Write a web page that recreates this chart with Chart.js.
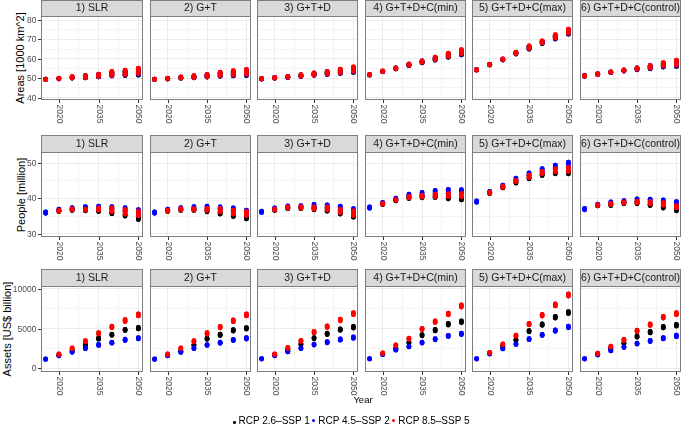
<!DOCTYPE html>
<html>
<head>
<meta charset="utf-8">
<script src="https://cdn.jsdelivr.net/npm/chart.js@4.4.1/dist/chart.umd.min.js"></script>
<style>
  body { margin: 0; width: 683px; height: 426px; background: #fff; position: relative; overflow: hidden;
         font-family: "Liberation Sans", Arial, sans-serif; }
  canvas { position: absolute; }
  .ytitle { position: absolute; transform: translate(-50%, -50%) rotate(-90deg); white-space: nowrap;
            font-size: 11px; color: #000; }
  #xtitle { position: absolute; left: 363px; top: 399px; transform: translate(-50%, -50%); font-size: 9.5px; }
  #legend { position: absolute; left: 233px; top: 415px; display: flex; align-items: center; font-size: 10px; }
  #legend span.dot { display: inline-block; border-radius: 50%; margin-right: 3px; }
  #legend span.item { display: flex; align-items: center; margin-right: 2px; }
</style>
</head>
<body>
<script>
// facets, years and scenarios
const panels = ['1) SLR', '2) G+T', '3) G+T+D', '4) G+T+D+C(min)', '5) G+T+D+C(max)', '6) G+T+D+C(control)'];
const years = [2015, 2020, 2025, 2030, 2035, 2040, 2045, 2050];
const scenarios = ['RCP 2.6\u2013SSP 1', 'RCP 4.5\u2013SSP 2', 'RCP 8.5\u2013SSP 5'];

// axis ticks
const xMajor = [2020, 2035, 2050];
const xMinor = [2027.5, 2042.5];
const areaTicks = [40, 50, 60, 70, 80];
const areaMinor = [45, 55, 65, 75];
const peopleTicks = [30, 40, 50];
const peopleMinor = [35, 45];
const assetTicks = [0, 5000, 10000];
const assetMinor = [2500, 7500];

// Areas [1000 km^2]: low / high end of each cluster, one row per panel
const areaLo26 = [
  [49.4,49.7,50.1,50.2,50.7,51.2,51.4,51.6], [49.4,49.6,50.0,50.2,50.6,51.0,51.2,51.4],
  [49.6,50.0,50.4,50.9,51.5,52.0,52.5,53.0], [51.7,53.3,54.8,56.5,57.9,59.3,60.8,62.0],
  [54.2,56.8,59.4,62.5,65.0,67.8,70.2,72.7], [51.1,52.0,52.9,53.7,54.4,54.9,55.8,56.1]];
const areaHi26 = [
  [49.6,50.0,50.6,51.1,51.8,52.8,53.4,54.2], [49.6,50.0,50.5,51.0,51.7,52.6,53.2,53.8],
  [49.8,50.3,50.8,51.6,52.4,53.1,54.0,55.0], [51.9,53.6,55.2,57.1,58.6,60.3,62.2,63.8],
  [54.4,57.1,59.8,63.1,66.2,68.8,71.7,74.4], [51.3,52.3,53.2,54.1,55.1,56.2,57.4,58.5]];
const areaLo45 = [
  [49.4,49.7,50.1,50.3,50.8,51.3,51.7,52.0], [49.4,49.7,50.1,50.3,50.7,51.2,51.5,51.8],
  [49.6,50.1,50.4,51.0,51.6,52.1,52.7,53.3], [51.7,53.4,54.9,56.6,58.1,59.5,61.1,62.4],
  [54.2,56.9,59.5,62.7,65.3,68.1,70.5,73.1], [51.1,52.0,52.9,53.8,54.5,55.0,56.1,56.5]];
const areaHi45 = [
  [49.6,50.0,50.7,51.3,52.0,53.2,53.9,54.8], [49.6,50.0,50.6,51.2,51.9,52.9,53.6,54.3],
  [49.8,50.4,50.9,51.8,52.6,53.4,54.4,55.5], [51.9,53.7,55.3,57.3,58.9,60.7,62.7,64.4],
  [54.4,57.2,59.9,63.3,66.5,69.1,72.1,75.0], [51.3,52.3,53.3,54.3,55.3,56.5,57.8,59.0]];
const areaLo85 = [
  [49.4,49.7,50.2,50.4,50.9,51.5,52.0,52.4], [49.4,49.7,50.1,50.4,50.8,51.4,51.8,52.2],
  [49.6,50.1,50.5,51.1,51.7,52.3,52.9,53.6], [51.7,53.4,54.9,56.7,58.2,59.7,61.3,62.7],
  [54.2,56.9,59.6,62.8,65.4,68.2,70.7,73.3], [51.1,52.0,53.0,53.9,54.7,55.3,56.4,56.9]];
const areaHi85 = [
  [49.6,50.1,50.8,51.4,52.1,53.5,54.2,55.2], [49.6,50.1,50.7,51.3,52.0,53.1,53.9,54.6],
  [49.8,50.4,51.0,51.9,52.8,53.6,54.7,55.9], [51.9,53.8,55.4,57.4,59.0,60.9,62.9,64.7],
  [54.4,57.3,60.0,63.4,66.7,69.3,72.4,75.3], [51.3,52.4,53.3,54.3,55.4,56.6,58.0,59.3]];

// People [million]
const peopleLo26 = [
  [null,36.3,36.6,36.5,36.3,35.7,35.0,34.0], [null,36.3,36.6,36.6,36.2,35.6,34.9,34.2],
  [null,36.6,37.1,37.1,36.8,36.4,35.6,34.7], [null,38.3,39.3,40.0,40.2,40.3,39.9,39.6],
  [null,41.4,43.0,44.4,45.6,46.5,47.0,47.0], [null,37.9,38.0,38.5,38.5,38.0,37.3,36.5]];
const peopleHi26 = [
  [null,36.6,36.9,36.8,36.6,36.1,35.4,34.6], [null,36.6,36.9,36.9,36.6,36.0,35.3,34.7],
  [null,36.9,37.3,37.4,37.1,36.8,35.9,35.2], [null,38.5,39.5,40.3,40.6,40.6,40.4,40.1],
  [null,41.6,43.3,44.7,45.9,46.9,47.4,47.5], [null,38.1,38.3,38.8,38.7,38.4,37.7,37.0]];
const peopleLo45 = [
  [35.8,36.6,37.0,37.2,37.0,36.9,36.3,35.2], [35.8,36.6,37.0,37.2,37.1,36.8,36.3,35.4],
  [36.0,37.0,37.5,37.6,37.5,37.3,36.6,35.8], [37.2,38.6,39.7,40.6,41.0,41.3,41.5,41.6],
  [38.9,41.7,43.4,45.2,46.6,47.6,48.5,48.0], [36.8,38.1,38.6,39.0,39.2,39.1,38.8,38.2]];
const peopleHi45 = [
  [36.2,37.0,37.4,37.7,37.8,37.7,37.4,36.8], [36.2,37.0,37.4,37.7,37.8,37.6,37.3,36.7],
  [36.4,37.3,37.9,38.0,38.3,38.2,37.8,37.1], [37.6,38.9,40.1,41.2,41.7,42.3,42.6,42.5],
  [39.3,42.0,43.8,45.8,47.3,48.5,49.5,50.3], [37.2,38.4,39.0,39.4,39.9,39.8,39.6,39.1]];
const peopleLo85 = [
  [null,36.4,36.8,36.7,36.7,36.2,35.6,35.1], [null,36.4,36.8,36.8,36.6,36.2,35.6,35.2],
  [null,36.8,37.3,37.3,37.0,36.8,36.0,35.2], [null,38.4,39.5,40.2,40.4,40.6,40.6,40.5],
  [null,41.5,43.2,44.8,46.0,47.0,47.6,47.7], [null,38.0,38.3,38.7,38.8,38.5,38.1,37.4]];
const peopleHi85 = [
  [null,36.7,37.1,37.0,37.3,37.3,36.8,36.4], [null,36.7,37.1,37.1,37.2,37.2,36.7,36.3],
  [null,37.0,37.6,37.7,37.6,37.6,37.0,36.5], [null,38.6,39.7,40.6,40.9,41.2,41.4,41.4],
  [null,41.8,43.5,45.2,46.6,47.7,48.4,48.8], [null,38.2,38.6,39.0,39.2,39.1,38.8,38.0]];

// Assets [US$ billion]
const assetLo26 = [
  [null,1620,2170,2880,3670,4170,4760,4960], [null,1620,2160,2870,3650,4150,4700,4950],
  [null,1650,2270,2980,3720,4260,4800,5080], [null,1770,2480,3180,4090,4710,5460,5770],
  [null,1870,2690,3520,4600,5420,6340,6910], [null,1750,2430,3100,3920,4460,5090,5330]];
const assetHi26 = [
  [null,1680,2270,3000,3820,4320,4920,5150], [null,1680,2260,2990,3800,4300,4860,5130],
  [null,1710,2370,3100,3870,4420,4960,5280], [null,1830,2580,3300,4250,4890,5660,5990],
  [null,1930,2790,3640,4760,5600,6540,7130], [null,1810,2530,3220,4080,4640,5270,5530]];
const assetLo45 = [
  [1120,1570,2010,2480,2890,3170,3500,3700], [1120,1570,2000,2470,2880,3160,3490,3680],
  [1170,1570,2070,2480,2930,3220,3540,3780], [1170,1720,2280,2690,3180,3600,4000,4250],
  [1170,1790,2440,2990,3610,4140,4670,5120], [1170,1670,2190,2610,3050,3380,3710,3990]];
const assetHi45 = [
  [1180,1630,2090,2580,3000,3300,3660,3880], [1180,1630,2080,2570,2990,3290,3650,3860],
  [1230,1630,2150,2580,3050,3360,3700,3960], [1230,1780,2360,2790,3300,3740,4160,4430],
  [1230,1850,2520,3090,3730,4280,4830,5320], [1230,1730,2270,2710,3170,3520,3870,4170]];
const assetLo85 = [
  [null,1740,2480,3350,4330,5120,5900,6610], [null,1740,2470,3340,4320,5100,5880,6600],
  [null,1730,2520,3380,4460,5150,5990,6760], [null,1860,2860,3670,4880,5780,6740,7730],
  [null,1940,2990,4050,5470,6590,7870,9110], [null,1820,2690,3510,4620,5410,6330,6760]];
const assetHi85 = [
  [null,1810,2580,3490,4500,5300,6120,6860], [null,1810,2570,3480,4480,5280,6100,6850],
  [null,1800,2620,3520,4640,5350,6210,7020], [null,1940,2960,3810,5040,5980,6960,7990],
  [null,2020,3090,4190,5650,6790,8110,9390], [null,1900,2790,3650,4800,5610,6550,7020]];

// ---- layout / style ----
const COLORS = ['#000000', '#0000ff', '#ff0000'];
const PANEL_X = [41, 149, 256, 364, 471, 579];
const PANEL_W = 103;
const rows = [
  { title: 'Areas [1000 km^2]', tx: 20, stripTop: 0, plotTop: 16, plotBottom: 100,
    min: 38.82, max: 82.06, major: areaTicks, minor: areaMinor,
    lo: [areaLo26, areaLo45, areaLo85], hi: [areaHi26, areaHi45, areaHi85] },
  { title: 'People [million]', tx: 21, stripTop: 135, plotTop: 152, plotBottom: 237,
    min: 29.06, max: 53.21, major: peopleTicks, minor: peopleMinor,
    lo: [peopleLo26, peopleLo45, peopleLo85], hi: [peopleHi26, peopleHi45, peopleHi85] },
  { title: 'Assets [US$ billion]', tx: 6.5, stripTop: 269, plotTop: 286, plotBottom: 372,
    min: -467, max: 10378, major: assetTicks, minor: assetMinor,
    lo: [assetLo26, assetLo45, assetLo85], hi: [assetHi26, assetHi45, assetHi85] }
];

const TICK_FONT = '8.5px "Liberation Sans", Arial, sans-serif';
const STRIP_FONT = '10.5px "Liberation Sans", Arial, sans-serif';

const facetPlugin = {
  id: 'facet',
  afterDraw(chart, args, opts) {
    const { ctx, chartArea: a, scales } = chart;
    ctx.save();
    // panel border
    ctx.strokeStyle = '#7f7f7f';
    ctx.lineWidth = 1;
    ctx.strokeRect(Math.round(a.left) + 0.5, Math.round(a.top) + 0.5,
                   Math.round(a.right - a.left) - 1, Math.round(a.bottom - a.top) - 1);
    // strip
    ctx.fillStyle = '#d9d9d9';
    ctx.fillRect(Math.round(a.left), 0, Math.round(a.right - a.left), Math.round(a.top));
    ctx.strokeRect(Math.round(a.left) + 0.5, 0.5, Math.round(a.right - a.left) - 1, Math.round(a.top));
    ctx.fillStyle = '#1a1a1a';
    ctx.font = STRIP_FONT;
    ctx.textAlign = 'center';
    ctx.textBaseline = 'middle';
    ctx.fillText(opts.label, (a.left + a.right) / 2, a.top / 2 + 0.5);
    // x ticks
    ctx.font = TICK_FONT;
    for (const v of xMajor) {
      const px = Math.round(scales.x.getPixelForValue(v)) + 0.5;
      ctx.strokeStyle = '#333';
      ctx.beginPath(); ctx.moveTo(px, a.bottom); ctx.lineTo(px, a.bottom + 3); ctx.stroke();
      ctx.save();
      ctx.translate(px, a.bottom + 4.5);
      ctx.rotate(Math.PI / 2);
      ctx.fillStyle = '#4d4d4d';
      ctx.textAlign = 'left';
      ctx.textBaseline = 'middle';
      ctx.fillText(String(v), 0, 0);
      ctx.restore();
    }
    // y ticks, first column only
    if (opts.yTicks) {
      for (const v of opts.yTicks) {
        const py = Math.round(scales.y.getPixelForValue(v)) + 0.5;
        ctx.strokeStyle = '#333';
        ctx.beginPath(); ctx.moveTo(a.left - 3, py); ctx.lineTo(a.left, py); ctx.stroke();
        ctx.fillStyle = '#4d4d4d';
        ctx.textAlign = 'right';
        ctx.textBaseline = 'middle';
        ctx.fillText(String(v), a.left - 4.5, py);
      }
    }
    ctx.restore();
  }
};

function clusterData(lo, hi) {
  const pts = [];
  years.forEach((yr, i) => {
    if (lo[i] == null) return;
    pts.push({ x: yr, y: lo[i] }, { x: yr, y: hi[i] }, { x: yr, y: null });
  });
  return pts;
}

rows.forEach((row, r) => {
  const t = document.createElement('div');
  t.className = 'ytitle';
  t.textContent = row.title;
  t.style.left = row.tx + 'px';
  t.style.top = ((row.plotTop + row.plotBottom) / 2) + 'px';
  document.body.appendChild(t);

  panels.forEach((label, c) => {
    const padL = c === 0 ? 41 : 3, padR = 3, padB = 28;
    const padT = row.plotTop - row.stripTop;
    const cv = document.createElement('canvas');
    const w = padL + PANEL_W + padR;
    const h = (row.plotBottom - row.stripTop) + padB;
    cv.width = w; cv.height = h;
    cv.style.left = (PANEL_X[c] - padL) + 'px';
    cv.style.top = row.stripTop + 'px';
    cv.style.width = w + 'px'; cv.style.height = h + 'px';
    document.body.appendChild(cv);

    // red drawn last (on top), black first
    const datasets = scenarios.map((s, k) => ({
      label: s,
      order: 2 - k,
      data: clusterData(row.lo[k][c], row.hi[k][c]),
      borderColor: COLORS[k],
      backgroundColor: COLORS[k],
      pointBackgroundColor: COLORS[k],
      pointBorderWidth: 0,
      pointRadius: 2.4,
      borderWidth: 4.8,
      borderCapStyle: 'round',
      spanGaps: false,
      tension: 0,
      fill: false
    }));

    const yGrid = row.major.concat(row.minor);
    new Chart(cv, {
      type: 'line',
      data: { datasets },
      options: {
        responsive: false,
        animation: false,
        events: [],
        devicePixelRatio: 1,
        layout: { padding: { left: padL, right: padR, top: padT, bottom: padB } },
        plugins: {
          legend: { display: false },
          tooltip: { enabled: false },
          facet: { label, yTicks: c === 0 ? row.major : null }
        },
        scales: {
          x: {
            type: 'linear', min: 2013.25, max: 2051.75,
            afterBuildTicks: s => { s.ticks = xMajor.concat(xMinor).map(v => ({ value: v })); },
            ticks: { display: false },
            border: { display: false },
            grid: { drawTicks: false, lineWidth: 1,
                    color: g => xMajor.includes(g.tick && g.tick.value) ? '#ebebeb' : '#f4f4f4' }
          },
          y: {
            type: 'linear', min: row.min, max: row.max,
            afterBuildTicks: s => { s.ticks = yGrid.map(v => ({ value: v })); },
            ticks: { display: false },
            border: { display: false },
            grid: { drawTicks: false, lineWidth: 1,
                    color: g => row.major.includes(g.tick && g.tick.value) ? '#ebebeb' : '#f4f4f4' }
          }
        }
      },
      plugins: [facetPlugin]
    });
  });
});

// axis title and legend
const xt = document.createElement('div');
xt.id = 'xtitle'; xt.textContent = 'Year';
document.body.appendChild(xt);

const lg = document.createElement('div');
lg.id = 'legend';
scenarios.forEach((s, k) => {
  const it = document.createElement('span');
  it.className = 'item';
  const d = document.createElement('span');
  d.className = 'dot';
  const sz = k === 0 ? 2.5 : 3.5;
  d.style.width = sz + 'px'; d.style.height = sz + 'px';
  d.style.background = COLORS[k];
  if (k === 0) d.style.marginTop = '4px';
  const tx = document.createElement('span');
  tx.textContent = s;
  it.appendChild(d); it.appendChild(tx);
  lg.appendChild(it);
});
document.body.appendChild(lg);
</script>
</body>
</html>
